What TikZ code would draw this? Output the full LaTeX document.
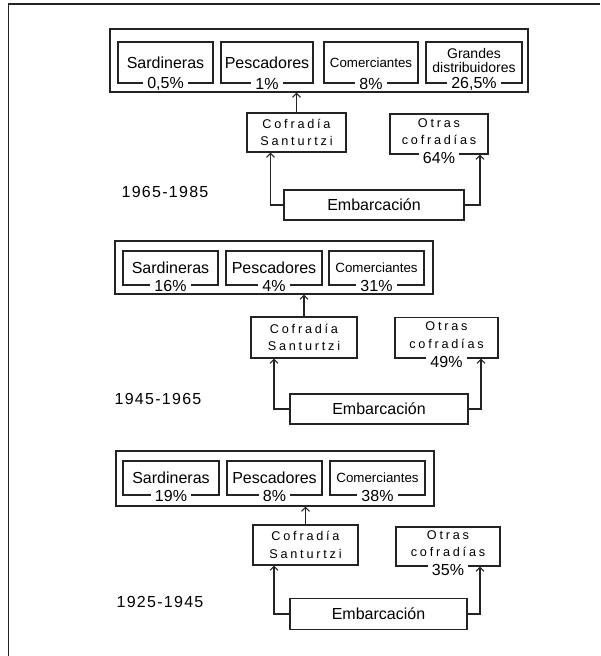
\documentclass[tikz,border=0pt]{standalone}
\usepackage{fontspec}
\setmainfont{Liberation Sans}
\newfontfamily\spacedfont[LetterSpace=22]{Liberation Sans}
\newfontfamily\yearfont[LetterSpace=8]{Liberation Sans}
\usetikzlibrary{arrows.meta,calc}
\definecolor{lineblack}{RGB}{35,35,35}

\tikzset{
  box/.style={draw=lineblack,line width=0.8pt,inner sep=1pt,align=center,
    font=\fontsize{12}{14}\selectfont},
  smallbox/.style={box,font=\fontsize{10}{12}\selectfont},
  grandbox/.style={box,text depth=3pt,font=\fontsize{10.5}{11}\selectfont},
  cofbox/.style={box,font=\spacedfont\fontsize{9.5}{13}\selectfont},
  otrbox/.style={cofbox,text depth=4pt},
  pct/.style={fill=white,inner xsep=3pt,inner ysep=0.5pt,font=\fontsize{12}{14}\selectfont},
  lowpct/.style={pct,yshift=-2.5pt},
  year/.style={font=\yearfont\fontsize{12}{14}\selectfont},
  flow/.style={draw=lineblack,line width=0.8pt,-{Straight Barb[length=3pt,width=6pt]}}
}

\begin{document}
\begin{tikzpicture}[x=0.75pt,y=-0.75pt]
  \useasboundingbox (0,0) rectangle (600,656);
  % frame
  \draw[lineblack,line width=1.2pt] (600,3.8) -- (8.4,3.8) -- (8.4,656);

  % 1965-1985
  \node[box,minimum width=313.5pt,minimum height=47.25pt] (grp1) at (319,60.5) {};
  \node[box,minimum width=71.25pt,minimum height=30.75pt] (sard1) at (165.5,62.5) {Sardineras};
  \node[box,minimum width=69pt,minimum height=30.75pt] (pesc1) at (267,62.5) {Pescadores};
  \node[smallbox,minimum width=70.5pt,minimum height=30.75pt] (come1) at (371,62.5) {Comerciantes};
  \node[grandbox,minimum width=72pt,minimum height=30.75pt] (gran1) at (474,62.5) {Grandes\\distribuidores};
  \node[pct] (sard1p) at (sard1.south) {0,5\%};
  \node[pct] (pesc1p) at (pesc1.south) {1\%};
  \node[pct] (come1p) at (come1.south) {8\%};
  \node[pct] (gran1p) at (gran1.south) {26,5\%};
  \node[cofbox,minimum width=74.25pt,minimum height=29.25pt] (cof1) at (296.5,132.5) {Cofradía\\Santurtzi};
  \node[otrbox,minimum width=73.5pt,minimum height=30pt] (otr1) at (439,134) {Otras\\cofradías};
  \node[lowpct] (otr1p) at (otr1.south) {64\%};
  \node[box,minimum width=135pt,minimum height=22.5pt] (emb1) at (374,205) {Embarcación};
  \node[year] (year1) at (165,192) {1965-1985};

  \draw[flow] (cof1.north) -- (cof1.north |- grp1.south);
  \draw[flow] (emb1.west) -| ($(cof1.south)+(-26,0)$);
  \draw[flow] (emb1.east) -| ($(otr1.south)+(41,0)$);

  % 1945-1965
  \node[box,minimum width=238.5pt,minimum height=39.75pt] (grp2) at (274,267.5) {};
  \node[box,minimum width=71.25pt,minimum height=25.5pt] (sard2) at (170.5,268) {Sardineras};
  \node[box,minimum width=72pt,minimum height=25.5pt] (pesc2) at (274,268) {Pescadores};
  \node[smallbox,minimum width=71.25pt,minimum height=25.5pt] (come2) at (376.5,268) {Comerciantes};
  \node[pct] (sard2p) at (sard2.south) {16\%};
  \node[pct] (pesc2p) at (pesc2.south) {4\%};
  \node[pct] (come2p) at (come2.south) {31\%};
  \node[cofbox,minimum width=79.5pt,minimum height=30.75pt] (cof2) at (304,337.5) {Cofradía\\Santurtzi};
  \node[otrbox,minimum width=77.25pt,minimum height=30.4pt] (otr2) at (446.5,337.75) {Otras\\cofradías};
  \node[lowpct] (otr2p) at (otr2.south) {49\%};
  \node[box,minimum width=133.5pt,minimum height=22.5pt] (emb2) at (379,409) {Embarcación};
  \node[year] (year2) at (158,398.5) {1945-1965};

  \draw[flow] (cof2.north) -- (cof2.north |- grp2.south);
  \draw[flow] (emb2.west) -| ($(cof2.south)+(-30,0)$);
  \draw[flow] (emb2.east) -| ($(otr2.south)+(34.5,0)$);

  % 1925-1945
  \node[box,minimum width=238.5pt,minimum height=41.25pt] (grp3) at (275,478.5) {};
  \node[box,minimum width=72pt,minimum height=25.5pt] (sard3) at (171,478) {Sardineras};
  \node[box,minimum width=71.25pt,minimum height=25.5pt] (pesc3) at (274.5,478) {Pescadores};
  \node[smallbox,minimum width=71.25pt,minimum height=25.5pt] (come3) at (377.5,478) {Comerciantes};
  \node[pct] (sard3p) at (sard3.south) {19\%};
  \node[pct] (pesc3p) at (pesc3.south) {8\%};
  \node[pct] (come3p) at (come3.south) {38\%};
  \node[cofbox,minimum width=78.75pt,minimum height=30pt] (cof3) at (305.5,545) {Cofradía\\Santurtzi};
  \node[otrbox,minimum width=78pt,minimum height=29.25pt] (otr3) at (448,546.5) {Otras\\cofradías};
  \node[lowpct] (otr3p) at (otr3.south) {35\%};
  \node[box,minimum width=132.75pt,minimum height=23.25pt] (emb3) at (378.5,614) {Embarcación};
  \node[year] (year3) at (160,602) {1925-1945};

  \draw[flow] (cof3.north) -- (cof3.north |- grp3.south);
  \draw[flow] (emb3.west) -| ($(cof3.south)+(-31.5,0)$);
  \draw[flow] (emb3.east) -| ($(otr3.south)+(32,0)$);
\end{tikzpicture}
\end{document}
